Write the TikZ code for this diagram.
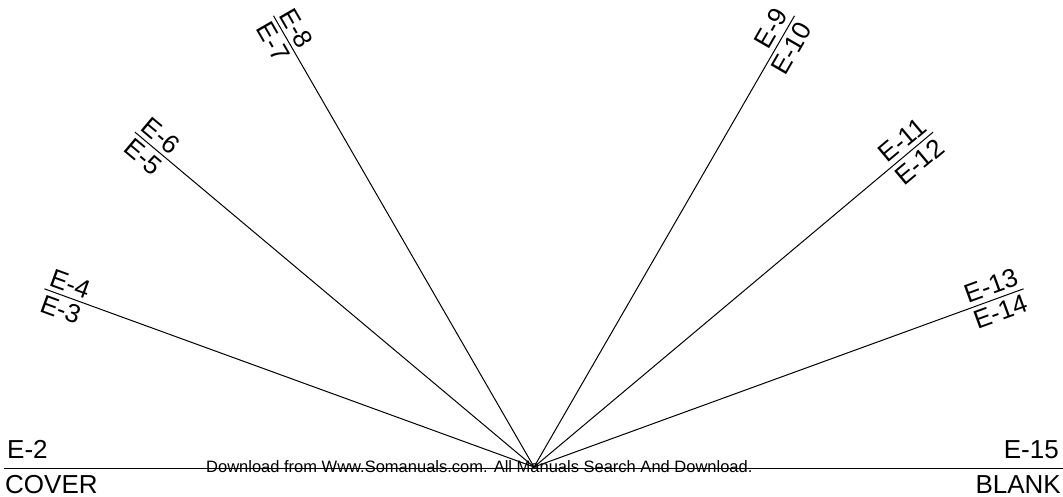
\documentclass[tikz,border=0pt]{standalone}
\usepackage{fontspec}
\setmainfont{Liberation Sans}

\begin{document}
\begin{tikzpicture}[x=1pt,y=1pt,
    spoke/.style={line width=1pt},
    tab/.style={inner xsep=2pt,inner ysep=4.5pt,font=\fontsize{26}{30}\selectfont},
    edge/.style={inner sep=0pt,font=\fontsize{26}{30}\selectfont}]
      \useasboundingbox (0,0) rectangle (1063,496);
      \coordinate (hub) at (534,29);
      \coordinate (T1) at ([shift={(160:521)}]hub);
      \coordinate (T2) at ([shift={(140:521)}]hub);
      \coordinate (T3) at ([shift={(120:521)}]hub);
      \coordinate (T4) at ([shift={(60:521)}]hub);
      \coordinate (T5) at ([shift={(40:521)}]hub);
      \coordinate (T6) at ([shift={(20:521)}]hub);
      \coordinate (rulel) at (4,27.5);
      \coordinate (ruler) at (1063,27.5);
      \draw [spoke] (hub) -- (T1);
      \draw [spoke] (hub) -- (T2);
      \draw [spoke] (hub) -- (T3);
      \draw [spoke] (hub) -- (T4);
      \draw [spoke] (hub) -- (T5);
      \draw [spoke] (hub) -- (T6);
      \draw [line width=1.2pt] (rulel) -- (ruler);
      % left-hand tabs
      \node [tab,rotate=-20,anchor=south west] (E4) at (T1) {E-4};
      \node [tab,rotate=-20,anchor=north west] (E3) at (T1) {E-3};
      \node [tab,rotate=-40,anchor=south west] (E6) at (T2) {E-6};
      \node [tab,rotate=-40,anchor=north west] (E5) at (T2) {E-5};
      \node [tab,rotate=-60,anchor=south west] (E8) at (T3) {E-8};
      \node [tab,rotate=-60,anchor=north west] (E7) at (T3) {E-7};
      % right-hand tabs
      \node [tab,rotate=60,anchor=south east] (E9) at (T4) {E-9};
      \node [tab,rotate=60,anchor=north east] (E10) at (T4) {E-10};
      \node [tab,rotate=40,anchor=south east] (E11) at (T5) {E-11};
      \node [tab,rotate=40,anchor=north east] (E12) at (T5) {E-12};
      \node [tab,rotate=20,anchor=south east] (E13) at (T6) {E-13};
      \node [tab,rotate=20,anchor=north east] (E14) at (T6) {E-14};
      % ends of the rule
      \node [edge,anchor=base west] (E2) at (7,38) {E-2};
      \node [edge,anchor=base west] (cover) at (5,3) {COVER};
      \node [edge,anchor=base east] (E15) at (1059,38) {E-15};
      \node [edge,anchor=base east] (blank) at (1061,3) {BLANK};
      \node [inner sep=0pt,anchor=base west,font=\fontsize{16.5}{20}\selectfont] (dl) at (206,24) {Download from Www.Somanuals.com. All Manuals Search And Download.};
\end{tikzpicture}
\end{document}
